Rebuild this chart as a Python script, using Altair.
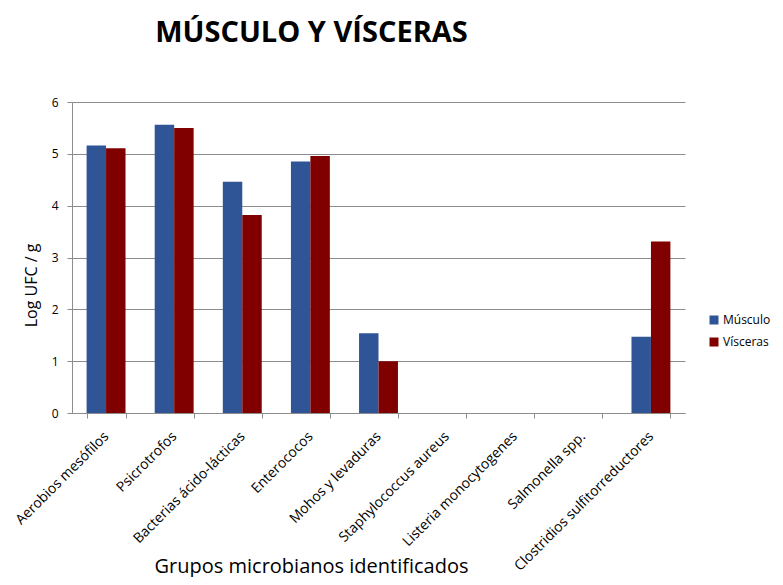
import altair as alt
import pandas as pd

categorias = [
    "Aerobios mesófilos",
    "Psicrotrofos",
    "Bacterias ácido-lácticas",
    "Enterococos",
    "Mohos y levaduras",
    "Staphylococcus aureus",
    "Listeria monocytogenes",
    "Salmonella spp.",
    "Clostridios sulfitorreductores",
]
series = ["Músculo", "Vísceras"]
musculo = [5.16, 5.56, 4.46, 4.85, 1.54, 0, 0, 0, 1.47]
visceras = [5.11, 5.50, 3.82, 4.96, 1.00, 0, 0, 0, 3.31]
colores = ["#2F5597", "#800000"]

rows = []
for c, m, v in zip(categorias, musculo, visceras):
    rows.append({"Grupo": c, "Serie": series[0], "Valor": m})
    rows.append({"Grupo": c, "Serie": series[1], "Valor": v})
df = pd.DataFrame(rows)

FONT = "Open Sans"
GRID = "#8C8C8C"

chart = alt.Chart(df).mark_bar().encode(
    x=alt.X(
        "Grupo:N",
        sort=categorias,
        scale=alt.Scale(paddingInner=0.4286, paddingOuter=0.2143),
        axis=alt.Axis(
            title="Grupos microbianos identificados",
            labelAngle=-45,
            labelAlign="right",
            labelBaseline="middle",
            labelFontSize=14,
            labelPadding=16,
            labelLimit=400,
            labelColor="#000000",
            tickBand="extent",
            tickSize=5,
            tickColor=GRID,
            domainColor=GRID,
            titleFontSize=20,
            titleFontWeight="normal",
            titleColor="#000000",
            titleX=239,
            titleY=159,
            titleAlign="center",
            titleBaseline="alphabetic",
            grid=False,
            labelOverlap=False,
        ),
    ),
    xOffset=alt.XOffset("Serie:N", sort=series, scale=alt.Scale(paddingInner=0, paddingOuter=0)),
    y=alt.Y(
        "Valor:Q",
        scale=alt.Scale(domain=[0, 6]),
        axis=alt.Axis(
            title="Log UFC / g",
            values=[0, 1, 2, 3, 4, 5, 6],
            tickSize=5,
            tickColor=GRID,
            domainColor=GRID,
            gridColor=GRID,
            labelFontSize=12,
            labelPadding=9,
            labelColor="#000000",
            titleFontSize=16,
            titleFontWeight="normal",
            titleColor="#000000",
            titleX=-41,
            titleY=183,
            titleAlign="center",
            titleBaseline="middle",
        ),
    ),
    color=alt.Color(
        "Serie:N",
        sort=series,
        scale=alt.Scale(domain=series, range=colores),
        legend=alt.Legend(
            title=None,
            orient="none",
            legendX=636,
            legendY=212,
            symbolType="square",
            symbolSize=81,
            symbolStrokeWidth=0,
            labelFontSize=12,
            labelColor="#000000",
            rowPadding=10,
            labelOffset=3,
        ),
    ),
).properties(
    width=613,
    height=311,
    title=alt.TitleParams(
        "MÚSCULO Y VÍSCERAS",
        font=FONT,
        fontSize=29,
        fontWeight="bold",
        color="#000000",
        anchor="middle",
        dx=-67,
        offset=48,
    ),
    autosize=alt.AutoSizeParams(type="none"),
    padding={"left": 64, "top": 94, "right": 90, "bottom": 164},
).configure(
    font=FONT,
).configure_view(
    stroke=None,
).configure_axis(
    labelFont=FONT,
    titleFont=FONT,
).configure_legend(
    labelFont=FONT,
)

chart.save("out.html", embed_options={"renderer": "svg", "actions": False})
